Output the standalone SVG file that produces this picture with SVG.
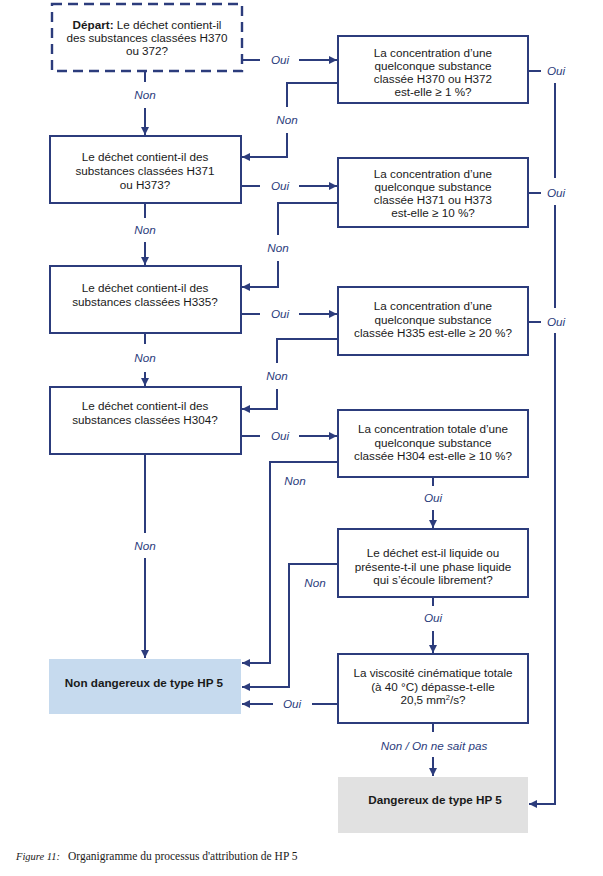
<svg xmlns="http://www.w3.org/2000/svg" width="603" height="876" viewBox="0 0 603 876">
<style>
.box{fill:#ffffff;stroke:#2c3c7c;stroke-width:2}
.dash{fill:#ffffff;stroke:#2c3c7c;stroke-width:2.4;stroke-dasharray:10 6}
.t{font-family:"Liberation Sans",Arial,sans-serif;font-size:11.7px;fill:#1a1a1a;text-anchor:middle}
.b{font-weight:bold}
.lbl{font-family:"Liberation Sans",Arial,sans-serif;font-size:11.7px;font-style:italic;fill:#2c3c7c;text-anchor:middle}
.ln{fill:none;stroke:#2c3c7c;stroke-width:2}
.cap{font-family:"Liberation Serif","Times New Roman",serif;font-size:11.5px;fill:#1a1a1a}
</style>
<defs>
<marker id="ah" markerUnits="userSpaceOnUse" markerWidth="8" markerHeight="8" refX="8" refY="4" orient="auto">
<path d="M0,0 L8,4 L0,8 z" fill="#2c3c7c"/>
</marker>
</defs>
<rect width="603" height="876" fill="#ffffff"/>

<g id="start">
<rect class="dash" x="52" y="4" width="190" height="67"/>
<text class="t" x="147" y="29"><tspan class="b">Départ:</tspan> Le déchet contient-il</text>
<text class="t" x="147" y="42">des substances classées H370</text>
<text class="t" x="147" y="55">ou 372?</text>
</g>

<g id="q1">
<rect class="box" x="338" y="36" width="190" height="67"/>
<text class="t" x="433" y="57">La concentration d’une</text>
<text class="t" x="433" y="70">quelconque substance</text>
<text class="t" x="433" y="83">classée H370 ou H372</text>
<text class="t" x="433" y="96">est-elle ≥ 1 %?</text>
</g>

<g id="box2">
<rect class="box" x="50" y="136" width="191" height="67"/>
<text class="t" x="145" y="161">Le déchet contient-il des</text>
<text class="t" x="145" y="175">substances classées H371</text>
<text class="t" x="145" y="189">ou H373?</text>
</g>

<g id="q2">
<rect class="box" x="338" y="158" width="190" height="69"/>
<text class="t" x="433" y="178">La concentration d’une</text>
<text class="t" x="433" y="191">quelconque substance</text>
<text class="t" x="433" y="204">classée H371 ou H373</text>
<text class="t" x="433" y="217">est-elle ≥ 10 %?</text>
</g>

<g id="box3">
<rect class="box" x="50" y="266" width="191" height="67"/>
<text class="t" x="145" y="292">Le déchet contient-il des</text>
<text class="t" x="145" y="306">substances classées H335?</text>
</g>

<g id="q3">
<rect class="box" x="338" y="287" width="190" height="68"/>
<text class="t" x="433" y="310">La concentration d’une</text>
<text class="t" x="433" y="323.5">quelconque substance</text>
<text class="t" x="433" y="337">classée H335 est-elle ≥ 20 %?</text>
</g>

<g id="box4">
<rect class="box" x="50" y="387" width="191" height="67"/>
<text class="t" x="145" y="410">Le déchet contient-il des</text>
<text class="t" x="145" y="424">substances classées H304?</text>
</g>

<g id="q4">
<rect class="box" x="338" y="410" width="190" height="67"/>
<text class="t" x="433" y="433">La concentration totale d’une</text>
<text class="t" x="433" y="446.5">quelconque substance</text>
<text class="t" x="433" y="460">classée H304 est-elle ≥ 10 %?</text>
</g>

<g id="q5">
<rect class="box" x="338" y="529" width="190" height="68"/>
<text class="t" x="433" y="557">Le déchet est-il liquide ou</text>
<text class="t" x="433" y="570.5">présente-t-il une phase liquide</text>
<text class="t" x="433" y="584">qui s’écoule librement?</text>
</g>

<g id="q6">
<rect class="box" x="338" y="654" width="190" height="69"/>
<text class="t" x="433" y="677">La viscosité cinématique totale</text>
<text class="t" x="433" y="690.5">(à 40 °C) dépasse-t-elle</text>
<text class="t" x="433" y="704">20,5 mm<tspan font-size="7.5px" dy="-4">2</tspan><tspan dy="4">/s?</tspan></text>
</g>

<g id="nonhaz">
<rect x="49" y="659" width="192" height="55" fill="#c6daee"/>
<text class="t b" x="144" y="687">Non dangereux de type HP 5</text>
</g>

<g id="haz">
<rect x="338" y="777" width="190" height="56" fill="#e1e1e1"/>
<text class="t b" x="435" y="804">Dangereux de type HP 5</text>
</g>

<g id="connectors">
<path class="ln" d="M242,60 H260"/>
<path class="ln" d="M299,60 H337" marker-end="url(#ah)"/>
<text class="lbl" x="280" y="64">Oui</text>
<path class="ln" d="M145,71 V82"/>
<path class="ln" d="M145,108 V135" marker-end="url(#ah)"/>
<text class="lbl" x="145" y="99">Non</text>
<path class="ln" d="M338,83 H287 V107"/>
<path class="ln" d="M287,133 V157 H242" marker-end="url(#ah)"/>
<text class="lbl" x="287" y="124">Non</text>
<path class="ln" d="M241,186 H260"/>
<path class="ln" d="M299,186 H337" marker-end="url(#ah)"/>
<text class="lbl" x="280" y="190">Oui</text>
<path class="ln" d="M145,203 V218"/>
<path class="ln" d="M145,242 V265" marker-end="url(#ah)"/>
<text class="lbl" x="145" y="234">Non</text>
<path class="ln" d="M338,203 H278 V235"/>
<path class="ln" d="M278,261 V287 H242" marker-end="url(#ah)"/>
<text class="lbl" x="278" y="252">Non</text>
<path class="ln" d="M241,314 H260"/>
<path class="ln" d="M299,314 H337" marker-end="url(#ah)"/>
<text class="lbl" x="280" y="318">Oui</text>
<path class="ln" d="M145,333 V344"/>
<path class="ln" d="M145,372 V386" marker-end="url(#ah)"/>
<text class="lbl" x="145" y="362">Non</text>
<path class="ln" d="M338,339 H277 V363"/>
<path class="ln" d="M277,389 V409 H242" marker-end="url(#ah)"/>
<text class="lbl" x="277" y="380">Non</text>
<path class="ln" d="M241,436 H260"/>
<path class="ln" d="M299,436 H337" marker-end="url(#ah)"/>
<text class="lbl" x="280" y="440">Oui</text>
<path class="ln" d="M145,454 V533"/>
<path class="ln" d="M145,558 V658" marker-end="url(#ah)"/>
<text class="lbl" x="145" y="550">Non</text>
<path class="ln" d="M338,462 H270 V663 H242" marker-end="url(#ah)"/>
<text class="lbl" x="295" y="485">Non</text>
<path class="ln" d="M433,477 V486"/>
<path class="ln" d="M433,510 V528" marker-end="url(#ah)"/>
<text class="lbl" x="433" y="502">Oui</text>
<path class="ln" d="M338,564 H289 V687 H242" marker-end="url(#ah)"/>
<text class="lbl" x="315" y="587">Non</text>
<path class="ln" d="M433,597 V606"/>
<path class="ln" d="M433,631 V653" marker-end="url(#ah)"/>
<text class="lbl" x="433" y="622">Oui</text>
<path class="ln" d="M338,704 H312"/>
<path class="ln" d="M273,704 H242" marker-end="url(#ah)"/>
<text class="lbl" x="292" y="708">Oui</text>
<path class="ln" d="M433,723 V732"/>
<path class="ln" d="M433,757 V776" marker-end="url(#ah)"/>
<text class="lbl" x="434" y="750">Non / On ne sait pas</text>
<path class="ln" d="M528,71 H541"/>
<text class="lbl" x="556" y="75">Oui</text>
<path class="ln" d="M528,193 H541"/>
<text class="lbl" x="556" y="197">Oui</text>
<path class="ln" d="M528,322 H541"/>
<text class="lbl" x="556" y="326">Oui</text>
<path class="ln" d="M555,83 V178"/>
<path class="ln" d="M555,205 V308"/>
<path class="ln" d="M555,333 V804 H529" marker-end="url(#ah)"/>
</g>

<text class="cap" x="16" y="860"><tspan font-style="italic" font-size="10.5px">Figure 11:</tspan><tspan x="68">Organigramme du processus d'attribution de HP 5</tspan></text>
</svg>
